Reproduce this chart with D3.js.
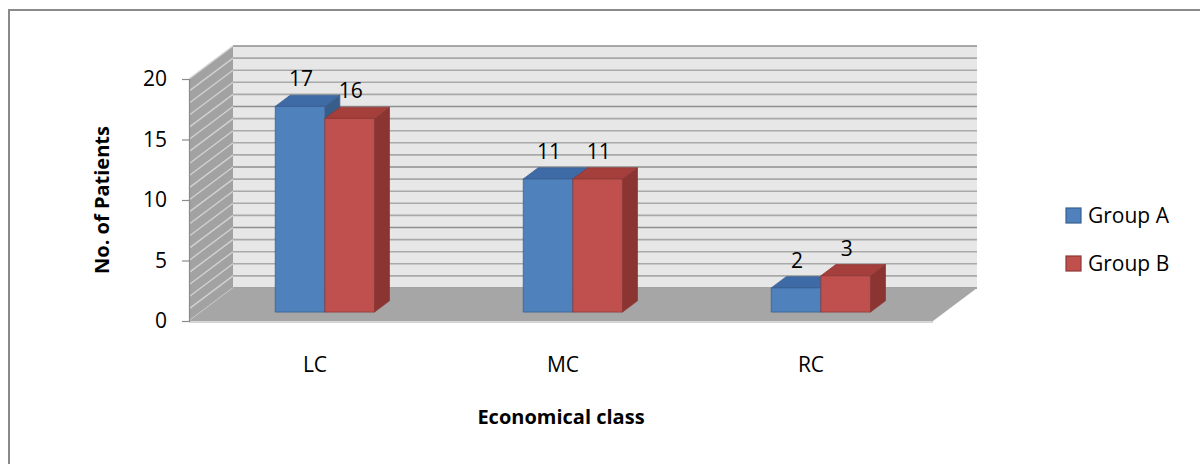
<!DOCTYPE html>
<html><head><meta charset="utf-8">
<script src="https://cdn.jsdelivr.net/npm/d3@7"></script>
<style>
body{margin:0;background:#fff}
svg{display:block}
text{font-family:"Open Sans",sans-serif;fill:#000}
</style>
</head><body>
<svg id="chart" width="1200" height="464"></svg>
<script>
const categories = ["LC", "MC", "RC"];
const seriesNames = ["Group A", "Group B"];
const groupA = [17, 11, 2];
const groupB = [16, 11, 3];
const yTicks = [0, 5, 10, 15, 20];
const yTitle = "No. of Patients";
const xTitle = "Economical class";

const palette = [
  {front: "#4f81bd", top: "#3e6aa6", side: "#385d8a", edge: "#3a5f8e"},
  {front: "#c0504d", top: "#a43f3c", side: "#8b3533", edge: "#8c3836"}
];
const series = [groupA, groupB].map((values, i) => ({name: seriesNames[i], values, ...palette[i]}));

const svg = d3.select("#chart");

// front plane of the 3-D box and the vector that pushes points towards the back wall
const plot = {left: 189, right: 933, top: 79, bottom: 321};
const depth = {dx: 44, dy: -33};
const barDepth = [0.27, 0.61];

const x = d3.scaleBand().domain(categories).range([plot.left, plot.right]);
const inner = d3.scaleBand().domain(seriesNames).range([x.bandwidth() * 0.3, x.bandwidth() * 0.7]);
const y = d3.scaleLinear().domain([0, 20]).range([plot.bottom, plot.top]);
const proj = (px, py, d) => [px + d * depth.dx, py + d * depth.dy];
const poly = pts => "M" + pts.map(p => p.join(",")).join("L") + "Z";

// outer chart border
svg.append("rect").attr("x", 9).attr("y", 10).attr("width", 1220).attr("height", 480)
  .attr("fill", "none").attr("stroke", "#8a8a8a").attr("stroke-width", 2);

const box = svg.append("g");
const units = d3.range(0, 21);

// left side wall with its diagonal grid hatching
box.append("path")
  .attr("d", poly([proj(plot.left, y(20), 0), proj(plot.left, y(20), 1), proj(plot.left, y(0), 1), proj(plot.left, y(0), 0)]))
  .attr("fill", "#a2a2a2");
box.selectAll(".hatch").data(units).join("line").attr("class", "hatch")
  .attr("x1", plot.left).attr("y1", d => y(d))
  .attr("x2", d => proj(plot.left, y(d), 1)[0]).attr("y2", d => proj(plot.left, y(d), 1)[1])
  .attr("stroke", "#d2d2d2").attr("stroke-width", 1.4);

// back wall
const bl = proj(plot.left, y(20), 1), br = proj(plot.right, y(0), 1);
box.append("rect").attr("x", bl[0]).attr("y", bl[1]).attr("width", br[0] - bl[0]).attr("height", br[1] - bl[1])
  .attr("fill", "#e7e7e7");
box.selectAll(".grid").data(units).join("line").attr("class", "grid")
  .attr("x1", bl[0]).attr("x2", br[0])
  .attr("y1", d => proj(0, y(d), 1)[1]).attr("y2", d => proj(0, y(d), 1)[1])
  .attr("stroke", d => d % 5 === 0 ? "#8e8e8e" : "#a9a9a9").attr("stroke-width", 1.6);

// floor
box.append("path")
  .attr("d", poly([proj(plot.left, y(0), 0), proj(plot.right, y(0), 0), proj(plot.right, y(0), 1), proj(plot.left, y(0), 1)]))
  .attr("fill", "#a6a6a6");
box.append("line").attr("x1", plot.left).attr("x2", plot.right).attr("y1", y(0) + 1).attr("y2", y(0) + 1)
  .attr("stroke", "#c8c8c8").attr("stroke-width", 1.5);

// value axis
const axis = svg.append("g").attr("transform", `translate(${plot.left},0)`)
  .call(d3.axisLeft(y).tickValues(yTicks).tickSize(7).tickPadding(15));
axis.select(".domain").attr("stroke", "#8a8a8a").attr("stroke-width", 1.2);
axis.selectAll(".tick line").attr("stroke", "#8a8a8a").attr("stroke-width", 1.2);
axis.selectAll(".tick text").attr("font-size", 21).attr("font-family", "Open Sans").attr("fill", "#000");

// bars drawn as 3-D blocks
const bars = svg.append("g");
categories.forEach((cat, ci) => {
  series.forEach(s => {
    const v = s.values[ci];
    const x0 = x(cat) + inner(s.name), x1 = x0 + inner.bandwidth();
    const yT = y(v), yB = y(0);
    const [d0, d1] = barDepth;
    const g = bars.append("g");
    g.append("path").attr("d", poly([proj(x1, yT, d0), proj(x1, yT, d1), proj(x1, yB, d1), proj(x1, yB, d0)]))
      .attr("fill", s.side).attr("stroke", s.edge).attr("stroke-width", 0.8);
    g.append("path").attr("d", poly([proj(x0, yT, d0), proj(x1, yT, d0), proj(x1, yT, d1), proj(x0, yT, d1)]))
      .attr("fill", s.top).attr("stroke", s.edge).attr("stroke-width", 0.8);
    g.append("path").attr("d", poly([proj(x0, yT, d0), proj(x1, yT, d0), proj(x1, yB, d0), proj(x0, yB, d0)]))
      .attr("fill", s.front).attr("stroke", s.edge).attr("stroke-width", 0.8);
    const lp = proj((x0 + x1) / 2, yT, d1);
    g.append("text").attr("x", proj((x0 + x1) / 2, yT, d0)[0] + 1).attr("y", lp[1] - 9)
      .attr("text-anchor", "middle").attr("font-size", 21).text(v);
  });
});

// category labels
svg.append("g").selectAll("text").data(categories).join("text")
  .attr("x", d => x(d) + x.bandwidth() / 2 + 2).attr("y", 372)
  .attr("text-anchor", "middle").attr("font-size", 21).text(d => d);

// axis titles
svg.append("text").attr("x", (plot.left + plot.right) / 2).attr("y", 424)
  .attr("text-anchor", "middle").attr("font-size", 20).attr("font-weight", "bold").text(xTitle);
svg.append("text").attr("transform", `translate(109,${(plot.top + plot.bottom) / 2}) rotate(-90)`)
  .attr("text-anchor", "middle").attr("font-size", 20).attr("font-weight", "bold").text(yTitle);

// legend
const legend = svg.append("g").selectAll("g").data(series).join("g")
  .attr("transform", (d, i) => `translate(1066,${208 + i * 48})`);
legend.append("rect").attr("width", 15).attr("height", 15)
  .attr("fill", d => d.front).attr("stroke", d => d.edge).attr("stroke-width", 1.2);
legend.append("text").attr("x", 22).attr("y", 14.5).attr("font-size", 21).text(d => d.name);
</script>
</body></html>
